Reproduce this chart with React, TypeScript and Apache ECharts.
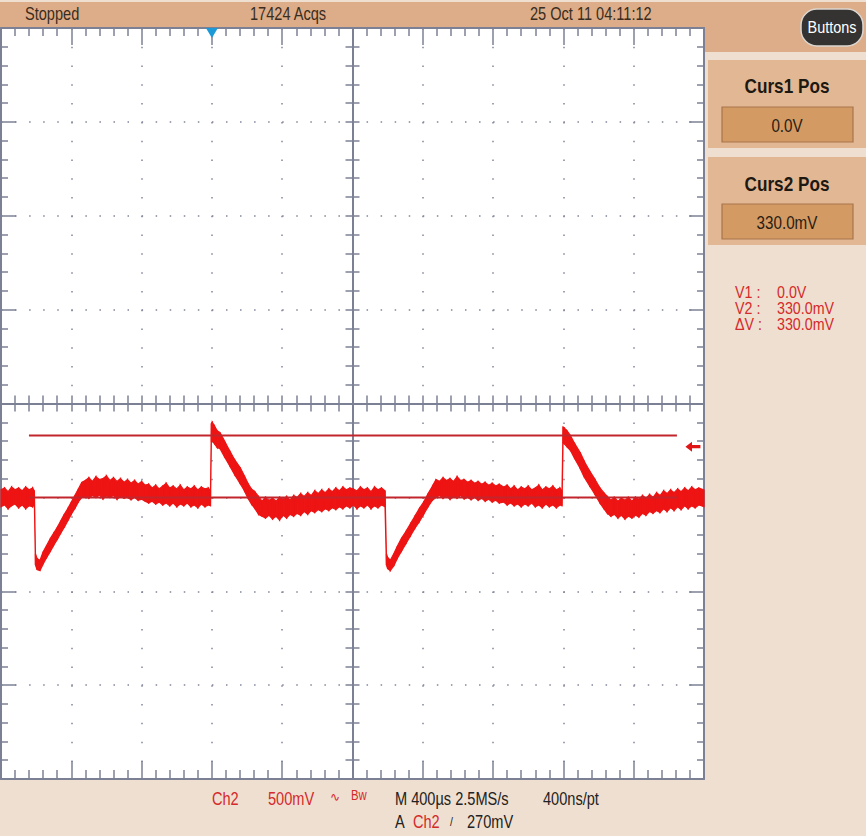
import React, { useEffect, useRef } from "react";
import * as echarts from "echarts";

// ---- Data (time in µs, voltage in V) ----
// Envelope of the noisy Ch2 trace: [time, low, high]
const period1Envelope: [number, number, number][] = [
  [0, -0.05, 0.04], [20, -0.04, 0.05], [40, -0.06, 0.03], [60, -0.045, 0.055],
  [80, -0.035, 0.04], [100, -0.055, 0.05], [120, -0.04, 0.035], [140, -0.06, 0.055],
  [160, -0.045, 0.04], [180, -0.05, 0.05], [190, -0.04, 0.035],
  [196, -0.36, -0.3], [205, -0.385, -0.325], [222, -0.39, -0.335],
  [240, -0.355, -0.29], [260, -0.32, -0.255], [280, -0.29, -0.22], [300, -0.255, -0.19],
  [320, -0.225, -0.16], [340, -0.19, -0.125], [360, -0.16, -0.09], [380, -0.125, -0.06],
  [400, -0.09, -0.025], [420, -0.06, 0.01], [440, -0.025, 0.045], [460, 0.0, 0.08],
  [480, 0.005, 0.09], [500, -0.005, 0.105], [520, 0.01, 0.085], [540, 0.0, 0.11],
  [560, 0.012, 0.095], [580, -0.008, 0.1], [600, 0.008, 0.115], [620, 0.0, 0.09],
  [640, 0.01, 0.105], [660, -0.01, 0.085], [680, 0.005, 0.1], [700, -0.005, 0.08],
  [720, 0.0, 0.095], [740, -0.012, 0.075], [760, 0.0, 0.09], [780, -0.015, 0.07],
  [800, -0.01, 0.085], [820, -0.02, 0.065], [840, -0.03, 0.07], [860, -0.02, 0.05],
  [880, -0.035, 0.065], [900, -0.025, 0.045], [920, -0.04, 0.06], [940, -0.03, 0.075],
  [960, -0.045, 0.05], [980, -0.03, 0.06], [1000, -0.05, 0.045], [1020, -0.035, 0.065],
  [1040, -0.045, 0.04], [1060, -0.03, 0.055], [1080, -0.05, 0.045], [1100, -0.04, 0.06],
  [1120, -0.055, 0.04], [1140, -0.035, 0.055], [1160, -0.05, 0.045], [1180, -0.04, 0.05],
  [1192, -0.045, 0.035],
  [1197, 0.3, 0.394], [1202, 0.3, 0.4], [1215, 0.285, 0.38], [1230, 0.265, 0.355],
  [1246, 0.26, 0.345], [1275, 0.21, 0.295], [1303, 0.165, 0.245], [1330, 0.12, 0.2],
  [1360, 0.075, 0.16], [1385, 0.035, 0.115], [1405, -0.005, 0.075], [1425, -0.035, 0.045],
  [1445, -0.06, 0.03], [1465, -0.09, 0.005], [1485, -0.1, -0.02], [1505, -0.11, 0.0],
  [1525, -0.095, -0.015], [1545, -0.115, -0.005], [1565, -0.1, -0.02], [1585, -0.12, 0.0],
  [1605, -0.095, -0.01], [1625, -0.11, 0.005], [1645, -0.09, -0.015], [1665, -0.1, 0.01],
  [1685, -0.085, 0.0], [1705, -0.095, 0.02], [1725, -0.075, 0.005], [1745, -0.09, 0.025],
  [1765, -0.07, 0.01], [1785, -0.08, 0.035], [1805, -0.065, 0.02], [1825, -0.075, 0.04],
  [1845, -0.06, 0.025], [1865, -0.07, 0.045], [1885, -0.055, 0.03], [1905, -0.065, 0.05],
  [1925, -0.05, 0.035], [1945, -0.06, 0.055], [1965, -0.045, 0.04], [1985, -0.055, 0.05],
];

const period2Envelope: [number, number, number][] = [
  [2005, -0.04, 0.045], [2025, -0.06, 0.035], [2045, -0.045, 0.055], [2065, -0.055, 0.04],
  [2085, -0.04, 0.05], [2105, -0.06, 0.03], [2125, -0.045, 0.055], [2145, -0.055, 0.04],
  [2165, -0.04, 0.05], [2185, -0.05, 0.035],
  [2193, -0.36, -0.3], [2200, -0.38, -0.32], [2215, -0.39, -0.335], [2235, -0.365, -0.3],
  [2255, -0.325, -0.26], [2280, -0.285, -0.215], [2305, -0.245, -0.18], [2330, -0.205, -0.14],
  [2355, -0.165, -0.1], [2380, -0.13, -0.06], [2405, -0.09, -0.025], [2430, -0.05, 0.02],
  [2455, -0.015, 0.06], [2475, 0.0, 0.095], [2495, 0.01, 0.085], [2515, -0.005, 0.105],
  [2535, 0.008, 0.09], [2555, -0.01, 0.1], [2575, 0.005, 0.085], [2595, -0.005, 0.11],
  [2615, 0.01, 0.09], [2635, -0.008, 0.095], [2655, 0.0, 0.08], [2675, -0.012, 0.09],
  [2695, 0.0, 0.075], [2715, -0.015, 0.085], [2735, -0.005, 0.07], [2755, -0.02, 0.08],
  [2775, -0.01, 0.065], [2795, -0.025, 0.075], [2815, -0.015, 0.06], [2835, -0.03, 0.07],
  [2860, -0.025, 0.055], [2880, -0.04, 0.065], [2900, -0.03, 0.045], [2920, -0.045, 0.06],
  [2940, -0.035, 0.04], [2960, -0.05, 0.055], [2980, -0.035, 0.045], [3000, -0.045, 0.06],
  [3020, -0.03, 0.04], [3040, -0.05, 0.05], [3060, -0.04, 0.065], [3080, -0.055, 0.04],
  [3100, -0.035, 0.055], [3120, -0.05, 0.045], [3140, -0.04, 0.06], [3160, -0.055, 0.04],
  [3180, -0.04, 0.05], [3192, -0.045, 0.035],
  [3198, 0.29, 0.375], [3205, 0.285, 0.37], [3220, 0.27, 0.355], [3240, 0.25, 0.33],
  [3265, 0.205, 0.285], [3295, 0.155, 0.24], [3320, 0.105, 0.19], [3350, 0.06, 0.14],
  [3380, 0.015, 0.095], [3408, -0.03, 0.05], [3430, -0.06, 0.025], [3450, -0.085, 0.005],
  [3470, -0.1, -0.015], [3490, -0.09, 0.0], [3510, -0.11, -0.02], [3530, -0.095, -0.005],
  [3550, -0.115, -0.015], [3570, -0.1, 0.0], [3590, -0.11, -0.02], [3610, -0.095, 0.0],
  [3630, -0.105, -0.01], [3650, -0.085, 0.01], [3670, -0.095, -0.005], [3690, -0.075, 0.015],
  [3710, -0.085, 0.0], [3730, -0.07, 0.025], [3750, -0.08, 0.01], [3770, -0.06, 0.035],
  [3790, -0.075, 0.02], [3810, -0.055, 0.04], [3830, -0.07, 0.025], [3850, -0.05, 0.045],
  [3870, -0.065, 0.03], [3890, -0.045, 0.05], [3910, -0.06, 0.035], [3930, -0.045, 0.055],
  [3950, -0.055, 0.04], [3970, -0.04, 0.05], [4000, -0.05, 0.04],
];

// Cursors (V) and their horizontal span (µs)
const cursorLevels = [0.0, 0.33];
const cursorSpan = [159, 3846];
// Trigger
const triggerLevel = 0.27;
const triggerArrowTime = 3937;
const triggerTime = 1200;
const triggerMarkerLevel = 2.473;

// Axis ranges
const timeRange = [0, 4000];
const timeDiv = 400;
const voltRange = [-1.5, 2.5];
const voltDiv = 0.5;

// Texts
const headerTexts = ["Stopped", "17424 Acqs", "25 Oct 11 04:11:12"];
const cursorPanelTitles = ["Curs1 Pos", "Curs2 Pos"];
const cursorPanelValues = ["0.0V", "330.0mV"];
const readoutLabels = ["V1 :", "V2 :", "ΔV :"];
const readoutValues = ["0.0V", "330.0mV", "330.0mV"];

const FONT = '"Liberation Sans", Arial, "DejaVu Sans", sans-serif';
const GRIDC = "#7b8094";
const RED = "#ee1414";

function txt(
  text: string,
  x: number,
  y: number,
  o: { color?: string; size?: number; weight?: string; align?: string; sx?: number } = {}
) {
  const size = o.size ?? 18;
  const weight = o.weight ?? "normal";
  const align = o.align ?? "left";
  return {
    type: "text",
    x,
    y,
    scaleX: o.sx ?? 0.81,
    z: 20,
    silent: true,
    style: {
      text,
      x: 0,
      y: 0,
      fill: o.color ?? "#3a2c20",
      font: `${weight} ${size}px ${FONT}`,
      fontSize: size,
      fontFamily: FONT,
      fontWeight: weight,
      align,
      textAlign: align,
      verticalAlign: "middle",
      textVerticalAlign: "middle",
    },
  };
}

function rect(x: number, y: number, w: number, h: number, fill: string, extra: any = {}) {
  return {
    type: "rect",
    z: -5,
    silent: true,
    shape: { x, y, width: w, height: h, r: extra.r ?? 0 },
    style: { fill, stroke: extra.stroke ?? null, lineWidth: extra.lineWidth ?? 0 },
  };
}

export default function App() {
  const ref = useRef<HTMLDivElement>(null);

  useEffect(() => {
    if (!ref.current) return;
    const chart = echarts.init(ref.current, null, { renderer: "svg" });
    const envelope = [...period1Envelope, ...period2Envelope];

    const edgeAxisCommon = {
      type: "value",
      axisLabel: { show: false },
      axisLine: { show: true, onZero: false, lineStyle: { color: GRIDC, width: 2 } },
    };

    const tickStyle = { color: GRIDC, width: 1.5 };

    const xAxes: any[] = [
      {
        ...edgeAxisCommon,
        position: "bottom",
        min: timeRange[0],
        max: timeRange[1],
        interval: timeDiv,
        axisTick: { show: true, inside: true, length: 18, lineStyle: tickStyle },
        minorTick: { show: true, splitNumber: 5, length: 9, lineStyle: tickStyle },
        splitLine: { show: true, lineStyle: { color: "#80859a", width: 1.5, type: [1.5, 17.28] } },
      },
      {
        ...edgeAxisCommon,
        position: "top",
        min: -5,
        max: 5,
        interval: 1,
        axisTick: { show: true, inside: true, length: 17, lineStyle: tickStyle },
        minorTick: { show: true, splitNumber: 5, length: 8, lineStyle: tickStyle },
        splitLine: { show: false },
      },
      ...[true, false].map((inside) => ({
        type: "value",
        position: "bottom",
        min: timeRange[0],
        max: timeRange[1],
        interval: timeDiv,
        axisLabel: { show: false },
        axisLine: { show: true, onZero: true, onZeroAxisIndex: 1, lineStyle: { color: GRIDC, width: 2 } },
        axisTick: { show: true, inside, length: 8, lineStyle: tickStyle },
        minorTick: { show: true, splitNumber: 5, length: 8, lineStyle: tickStyle },
        splitLine: { show: false },
      })),
    ];

    const yAxes: any[] = [
      {
        ...edgeAxisCommon,
        position: "left",
        min: voltRange[0],
        max: voltRange[1],
        interval: voltDiv,
        axisTick: { show: true, inside: true, length: 15, lineStyle: tickStyle },
        minorTick: { show: true, splitNumber: 5, length: 7, lineStyle: tickStyle },
        splitLine: { show: true, lineStyle: { color: "#80859a", width: 1.5, type: [1.5, 12.56] } },
      },
      {
        ...edgeAxisCommon,
        position: "right",
        min: -4,
        max: 4,
        interval: 1,
        axisTick: { show: true, inside: true, length: 15, lineStyle: tickStyle },
        minorTick: { show: true, splitNumber: 5, length: 7, lineStyle: tickStyle },
        splitLine: { show: false },
      },
      ...[true, false].map((inside) => ({
        type: "value",
        position: "left",
        min: -4,
        max: 4,
        interval: 1,
        axisLabel: { show: false },
        axisLine: { show: true, onZero: true, onZeroAxisIndex: 1, lineStyle: { color: GRIDC, width: 2 } },
        axisTick: { show: true, inside, length: 7, lineStyle: tickStyle },
        minorTick: { show: true, splitNumber: 5, length: 7, lineStyle: tickStyle },
        splitLine: { show: false },
      })),
    ];

    const graphics: any[] = [
      // top status bar
      rect(0, 2, 866, 26, "#dcad88"),
      rect(704, 2, 162, 50, "#dcad88"),
      // cursor panels
      rect(708, 60, 158, 88, "#e2b894"),
      rect(708, 157, 158, 88, "#e2b894"),
      rect(722, 107, 131, 35, "#d39a64", { stroke: "#a9744c", lineWidth: 1.2 }),
      rect(722, 204, 131, 35, "#d39a64", { stroke: "#a9744c", lineWidth: 1.2 }),
      // Buttons pill
      {
        type: "rect",
        z: 10,
        silent: true,
        shape: { x: 801, y: 9, width: 62, height: 37, r: 16 },
        style: { fill: "#353331", stroke: "#dcd6d0", lineWidth: 1.5 },
      },
      txt("Buttons", 832, 27, { color: "#ffffff", size: 17, align: "center", sx: 0.85 }),
      // header texts
      txt(headerTexts[0], 25, 13),
      txt(headerTexts[1], 250, 13),
      txt(headerTexts[2], 530, 13),
      // cursor panels text
      txt(cursorPanelTitles[0], 787, 86, { size: 20, weight: "bold", align: "center", sx: 0.86, color: "#1e1812" }),
      txt(cursorPanelValues[0], 787, 125, { size: 19, align: "center", sx: 0.8, color: "#2a1c10" }),
      txt(cursorPanelTitles[1], 787, 184, { size: 20, weight: "bold", align: "center", sx: 0.86, color: "#1e1812" }),
      txt(cursorPanelValues[1], 787, 222, { size: 19, align: "center", sx: 0.8, color: "#2a1c10" }),
      // readouts
      ...readoutLabels.map((l, i) => txt(l, 735, 292 + i * 16, { color: "#d42a2a", size: 17, sx: 0.84 })),
      ...readoutValues.map((v, i) => txt(v, 777, 292 + i * 16, { color: "#d42a2a", size: 17, sx: 0.84 })),
      // bottom status
      txt("Ch2", 212, 798, { color: "#d42a2a" }),
      txt("500mV", 268, 798, { color: "#d42a2a" }),
      txt("∿", 330, 797, { color: "#d42a2a", size: 12, sx: 1 }),
      txt("Bw", 351, 795, { color: "#d42a2a", size: 14 }),
      txt("M 400µs 2.5MS/s", 395, 798, { color: "#222222" }),
      txt("400ns/pt", 543, 798, { color: "#222222" }),
      txt("A", 395, 821, { color: "#222222" }),
      txt("Ch2", 413, 821, { color: "#d42a2a" }),
      txt("/", 450, 822, { color: "#222222", size: 13 }),
      txt("270mV", 467, 821, { color: "#222222" }),
    ];

    chart.setOption({
      animation: false,
      backgroundColor: "#efdfd0",
      grid: {
        left: 1,
        right: 162,
        top: 28,
        bottom: 57,
        show: true,
        backgroundColor: "#ffffff",
        borderWidth: 0,
        containLabel: false,
      },
      xAxis: xAxes,
      yAxis: yAxes,
      graphic: { elements: graphics },
      series: [
        {
          type: "custom",
          name: "Ch2",
          xAxisIndex: 0,
          yAxisIndex: 0,
          z: 3,
          data: envelope,
          encode: { x: 0, y: [1, 2] },
          renderItem: (params: any, api: any) => {
            const i = params.dataIndex;
            if (i >= envelope.length - 1) return null;
            const a = envelope[i];
            const b = envelope[i + 1];
            const aHi = api.coord([a[0], a[2]]);
            const aLo = api.coord([a[0], a[1]]);
            const bHi = api.coord([b[0], b[2]]);
            const bLo = api.coord([b[0], b[1]]);
            return {
              type: "polygon",
              shape: { points: [aHi, bHi, bLo, aLo] },
              style: { fill: RED, stroke: RED, lineWidth: 1.2 },
            };
          },
        },
        ...cursorLevels.map((lv, k) => ({
          type: "line",
          name: `Cursor ${k + 1}`,
          xAxisIndex: 0,
          yAxisIndex: 0,
          z: 5,
          showSymbol: false,
          symbol: "none",
          data: [
            [cursorSpan[0], lv],
            [cursorSpan[1], lv],
          ],
          lineStyle: { color: "#c2262c", width: 2 },
        })),
        {
          type: "scatter",
          name: "Trigger level",
          xAxisIndex: 0,
          yAxisIndex: 0,
          z: 6,
          data: [[triggerArrowTime, triggerLevel]],
          symbol: "path://M0,5L7,0L7,3.4L16,3.4L16,6.6L7,6.6L7,10Z",
          symbolSize: [15, 10],
          itemStyle: { color: "#e01515", opacity: 1 },
        },
        {
          type: "scatter",
          name: "Trigger position",
          xAxisIndex: 0,
          yAxisIndex: 0,
          z: 6,
          data: [[triggerTime, triggerMarkerLevel]],
          symbol: "path://M0,0L12,0L6,10Z",
          symbolSize: [12, 10],
          itemStyle: { color: "#1c9ad8", opacity: 1 },
        },
      ],
    });

    return () => chart.dispose();
  }, []);

  return (
    <div
      ref={ref}
      style={{ position: "fixed", left: 0, top: 0, width: 866, height: 836 }}
    />
  );
}
